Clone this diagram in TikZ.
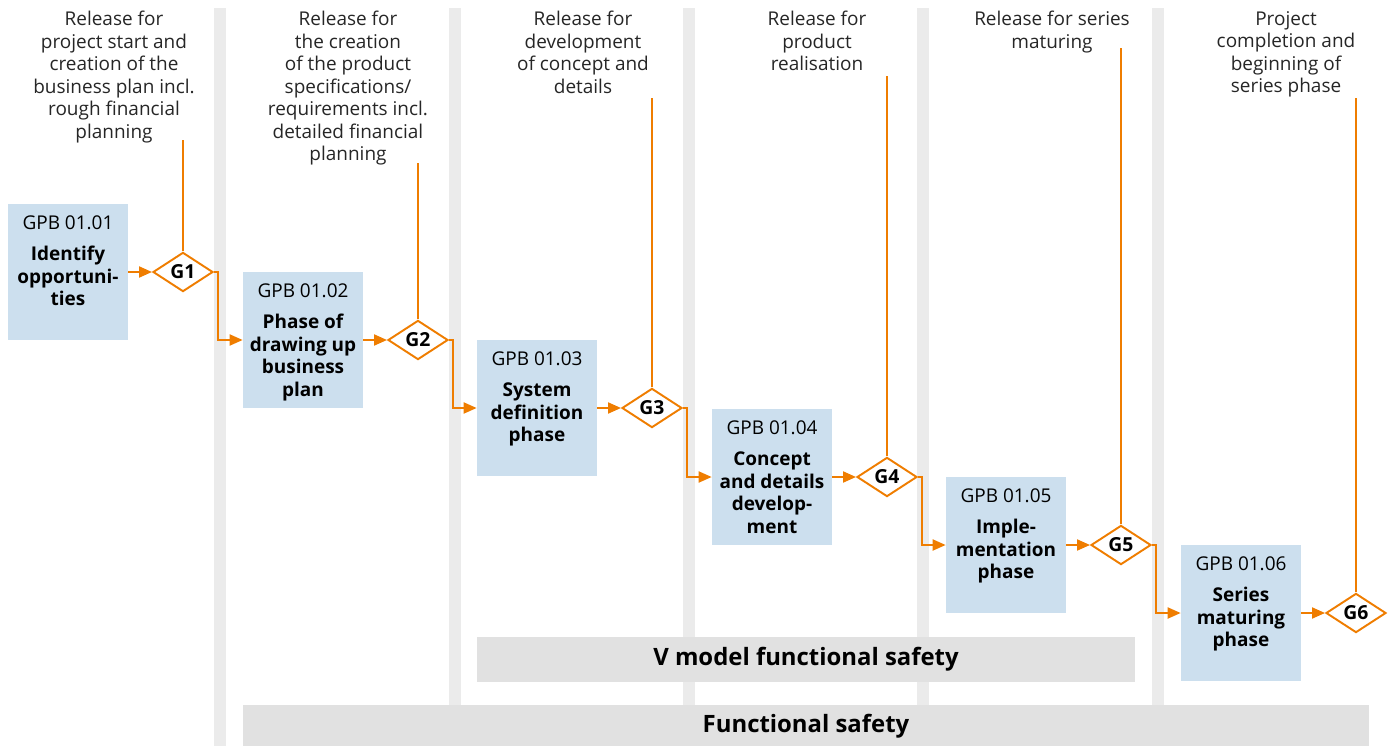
\documentclass[tikz,border=0pt]{standalone}
\usepackage{fontspec}
\setmainfont{Open Sans}
\usepackage{xcolor}
\usepackage{tikz}
\usetikzlibrary{positioning}
\usetikzlibrary{shapes.geometric}
\usetikzlibrary{arrows.meta}

\definecolor{gpbblue}{RGB}{204,223,238}
\definecolor{gateorange}{RGB}{239,125,0}
\definecolor{colgrey}{RGB}{235,235,235}
\definecolor{bargrey}{RGB}{225,225,225}

\newcommand{\phasebox}[2]{\parbox[c][2.72cm][t]{2.4cm}{\centering
  \vspace*{0.24cm}GPB #1\\[0.17cm]{\bfseries #2}}}

\begin{document}
\begin{tikzpicture}[x=0.02cm,y=-0.02cm,node distance=2.3cm,
    >={Triangle[length=0.26cm,width=0.22cm]}]
      \tikzstyle{every node}=[font=\fontsize{10.8}{12.8}\selectfont]
      \tikzstyle{phase}=[fill=gpbblue,inner sep=0pt]
      \tikzstyle{gate}=[diamond,draw=gateorange,fill=white,line width=1.1pt,
                        inner sep=0pt,minimum width=1.2cm,minimum height=0.66cm,
                        font=\fontsize{11}{13}\selectfont\bfseries]
      \tikzstyle{release}=[anchor=north,align=center,inner sep=0pt,text=black!85]
      \tikzstyle{flow}=[draw=gateorange,line width=1.1pt,->,gateorange]
      \tikzstyle{safety}=[fill=bargrey,inner sep=0pt,
                          font=\fontsize{13.6}{16}\selectfont\bfseries]

      \useasboundingbox (0,0) rectangle (1391,746);

      % column separators
      \fill[colgrey] (214,8) rectangle (226,746);
      \fill[colgrey] (449,8) rectangle (461,746);
      \fill[colgrey] (683,8) rectangle (695,746);
      \fill[colgrey] (917,8) rectangle (929,746);
      \fill[colgrey] (1152,8) rectangle (1164,746);

      \node[safety,minimum width=13.16cm,minimum height=0.9cm] (VM) at (806,659.5)
           {V model functional safety};
      \node[safety,minimum width=22.52cm,minimum height=0.84cm] (FS) at (806,726)
           {Functional safety};

      % phases
      \node[phase] (B1) at (68,272)   {\phasebox{01.01}{Identify\\opportuni-\\ties}};
      \node[phase] (B2) at (303,340)  {\phasebox{01.02}{Phase of\\drawing up\\business\\plan}};
      \node[phase] (B3) at (537,408)  {\phasebox{01.03}{System\\definition\\phase}};
      \node[phase] (B4) at (772,477)  {\phasebox{01.04}{Concept\\and details\\develop-\\ment}};
      \node[phase] (B5) at (1006,545) {\phasebox{01.05}{Imple-\\mentation\\phase}};
      \node[phase] (B6) at (1241,613) {\phasebox{01.06}{Series\\maturing\\phase}};

      % gates
      \node[gate] (G1) [right of=B1] {G1};
      \node[gate] (G2) [right of=B2] {G2};
      \node[gate] (G3) [right of=B3] {G3};
      \node[gate] (G4) [right of=B4] {G4};
      \node[gate] (G5) [right of=B5] {G5};
      \node[gate] (G6) [right of=B6] {G6};

      % release texts
      \node[release] (R1) at (114,11)   {Release for\\project start and\\creation of the\\business plan incl.\\rough financial\\planning};
      \node[release] (R2) at (348,11)   {Release for\\the creation\\of the product\\specifications/\\requirements incl.\\detailed financial\\planning};
      \node[release] (R3) at (583,11)   {Release for\\development\\of concept and\\details};
      \node[release] (R4) at (817,11)   {Release for\\product\\realisation};
      \node[release] (R5) at (1052,11)  {Release for series\\maturing};
      \node[release] (R6) at (1286,11)  {Project\\completion and\\beginning of\\series phase};

      \coordinate (T1) at (183,140);
      \coordinate (T2) at (418,163);
      \coordinate (T3) at (652,98);
      \coordinate (T4) at (887,76);
      \coordinate (T5) at (1121,48);
      \coordinate (T6) at (1356,98);

      \path[flow] (B1) edge (G1)
                  (B2) edge (G2)
                  (B3) edge (G3)
                  (B4) edge (G4)
                  (B5) edge (G5)
                  (B6) edge (G6);

      \draw[flow] (G1.east) -- ++(4,0) |- (B2.west);
      \draw[flow] (G2.east) -- ++(4,0) |- (B3.west);
      \draw[flow] (G3.east) -- ++(4,0) |- (B4.west);
      \draw[flow] (G4.east) -- ++(4,0) |- (B5.west);
      \draw[flow] (G5.east) -- ++(4,0) |- (B6.west);

      \draw[flow,-] (G1.north) -- (G1.north |- T1);
      \draw[flow,-] (G2.north) -- (G2.north |- T2);
      \draw[flow,-] (G3.north) -- (G3.north |- T3);
      \draw[flow,-] (G4.north) -- (G4.north |- T4);
      \draw[flow,-] (G5.north) -- (G5.north |- T5);
      \draw[flow,-] (G6.north) -- (G6.north |- T6);
    \end{tikzpicture}
\end{document}
